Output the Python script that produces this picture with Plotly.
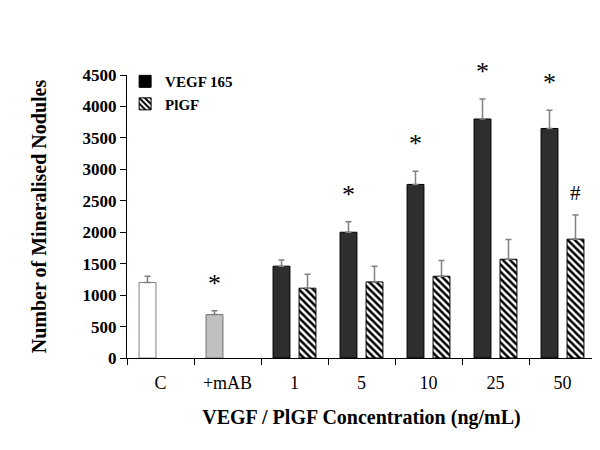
import plotly.graph_objects as go

categories = ["C", "+mAB", "1", "5", "10", "25", "50"]
vegf_values = [1200, 690, 1460, 2000, 2760, 3800, 3650]
vegf_errors = [100, 60, 100, 165, 210, 320, 290]
plgf_values = [None, None, 1110, 1210, 1300, 1570, 1890]
plgf_errors = [None, None, 220, 250, 250, 315, 385]
vegf_colors = ["#ffffff", "#c0c0c0", "#2e2e2e", "#2e2e2e", "#2e2e2e", "#2e2e2e", "#2e2e2e"]
vegf_lines = ["#808080", "#707070", "#000000", "#000000", "#000000", "#000000", "#000000"]
star_marks = ["", "*", "", "*", "*", "*", "*"]
plgf_marks = ["", "", "", "", "", "", "#"]

FONT = "Liberation Serif, Times New Roman, serif"

fig = go.Figure()
# legend proxy for VEGF (shares offset slot with the real VEGF trace)
fig.add_trace(go.Bar(x=[categories[0]], y=[0], name="VEGF 165", offsetgroup="v",
                     marker=dict(color="#000000", line=dict(color="#000000", width=1)),
                     hoverinfo="skip"))
fig.add_trace(go.Bar(
    x=categories, y=vegf_values, name="VEGF 165", offsetgroup="v", showlegend=False,
    marker=dict(color=vegf_colors, line=dict(color=vegf_lines, width=1)),
    error_y=dict(type="data", symmetric=False, array=vegf_errors,
                 arrayminus=[0] * len(vegf_errors), color="#808080",
                 thickness=1.5, width=3),
))
fig.add_trace(go.Bar(
    x=categories, y=plgf_values, name="PlGF", offsetgroup="p",
    marker=dict(color="#ffffff", line=dict(color="#000000", width=1),
                pattern=dict(shape="\\", fgcolor="#000000", bgcolor="#ffffff",
                             fgopacity=1, size=5, solidity=0.5)),
    error_y=dict(type="data", symmetric=False, array=plgf_errors,
                 arrayminus=[0] * len(plgf_errors), color="#808080",
                 thickness=1.5, width=3),
))

annotations = []
for i, c in enumerate(categories):
    if star_marks[i]:
        annotations.append(dict(
            x=i, y=vegf_values[i] + vegf_errors[i], xref="x", yref="y",
            text=star_marks[i], showarrow=False, yanchor="bottom",
            xshift=-13, yshift=11,
            font=dict(family=FONT, size=26, color="#000000")))
    if plgf_marks[i]:
        annotations.append(dict(
            x=i, y=plgf_values[i] + plgf_errors[i], xref="x", yref="y",
            text=plgf_marks[i], showarrow=False, yanchor="bottom",
            xshift=13, yshift=8,
            font=dict(family=FONT, size=21, color="#000000")))

fig.update_layout(
    width=600, height=450,
    margin=dict(l=119, r=12, t=67, b=100),
    paper_bgcolor="#ffffff", plot_bgcolor="#ffffff",
    barmode="group", bargap=0.224, bargroupgap=0.35,
    font=dict(family=FONT, color="#000000"),
    showlegend=True,
    legend=dict(x=-0.004, y=1.035, xanchor="left", yanchor="top",
                bgcolor="rgba(0,0,0,0)", traceorder="normal",
                font=dict(family=FONT, size=15, color="#000000", weight="bold"),
                itemwidth=30, tracegroupgap=4),
    annotations=annotations,
    xaxis=dict(
        type="category", range=[-0.5, len(categories) - 0.5],
        showline=True, linecolor="#000000", linewidth=1,
        ticks="outside", tickson="boundaries", ticklen=6, tickcolor="#000000",
        tickfont=dict(family=FONT, size=18, color="#000000"),
        ticklabelstandoff=8,
        showgrid=False, zeroline=False,
        title=dict(text="<b>VEGF / PlGF Concentration (ng/mL)</b>",
                   font=dict(family=FONT, size=20, color="#000000"), standoff=18),
    ),
    yaxis=dict(
        range=[0, 4500], dtick=500, tick0=0,
        showline=True, linecolor="#000000", linewidth=1,
        ticks="outside", ticklen=6, tickcolor="#000000",
        tickfont=dict(family=FONT, size=17, color="#000000", weight="bold"),
        showgrid=False, zeroline=False,
        title=dict(text="<b>Number of Mineralised Nodules</b>",
                   font=dict(family=FONT, size=20, color="#000000"), standoff=30),
    ),
)

fig.write_html("out.html")
